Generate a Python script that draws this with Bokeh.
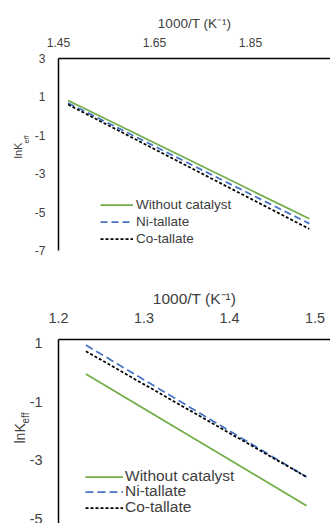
from bokeh.plotting import figure
from bokeh.models import Range1d, FixedTicker, Legend, LegendItem, Title, CustomJSTickFormatter
from bokeh.layouts import column
from bokeh.embed import file_html
from bokeh.resources import INLINE

series_names = ["Without catalyst", "Ni-tallate", "Co-tallate"]

# ---- top panel data ----
top_x = [1.470, 1.973]
top_without = [0.81, -5.35]
top_ni = [0.68, -5.60]
top_co = [0.60, -5.88]
top_xticks = [1.45, 1.65, 1.85, 2.05]
top_yticks = [3, 1, -1, -3, -5, -7]

# ---- bottom panel data ----
bot_x = [1.232, 1.490]
bot_without = [-0.05, -4.55]
bot_ni = [0.94, -3.57]
bot_co = [0.73, -3.57]
bot_xticks = [1.2, 1.3, 1.4, 1.5]
bot_yticks = [1, -1, -3, -5]

GREEN = "#70AD47"
BLUE = "#4472C4"
BLACK = "#000000"
TXT = "#404040"
FONT = "Liberation Sans"


def panel(x, ys, xticks, yticks, xdec, xr, yr, height, border_top, border_left, border_bottom,
          tick_fs, title_fs, legend_fs, tick_standoff_x, title_standoff, tick_standoff_y,
          dashes, lw, legend_locs, glyph_w, row_h, lab_standoff,
          ylab_fs, ysub_fs, ylab_off, ysub_off, ylab_so, ysub_so):
    p = figure(width=330, height=height, output_backend="svg", toolbar_location=None,
               x_axis_location="above", x_range=Range1d(*xr), y_range=Range1d(*yr),
               min_border_top=border_top, min_border_left=border_left,
               min_border_right=0, min_border_bottom=border_bottom)
    p.outline_line_color = None
    p.grid.visible = False
    p.background_fill_color = "white"
    p.border_fill_color = "white"
    for ax in (p.xaxis[0], p.yaxis[0]):
        ax.axis_line_color = BLACK
        ax.axis_line_width = 1.5
        ax.major_tick_out = 0
        ax.major_tick_in = 0
        ax.minor_tick_out = 0
        ax.minor_tick_in = 0
        ax.major_label_text_font = FONT
        ax.major_label_text_font_size = f"{tick_fs}px"
        ax.major_label_text_color = TXT
    p.xaxis.ticker = FixedTicker(ticks=xticks)
    p.yaxis.ticker = FixedTicker(ticks=yticks)
    p.xaxis.formatter = CustomJSTickFormatter(code=f"return tick.toFixed({xdec});")
    p.yaxis.formatter = CustomJSTickFormatter(code="return Math.round(tick).toString();")
    p.xaxis.major_label_standoff = tick_standoff_x
    p.yaxis.major_label_standoff = tick_standoff_y
    p.xaxis.axis_label = "1000/T (K\u207b\u00b9)"
    p.xaxis.axis_label_text_font = FONT
    p.xaxis.axis_label_text_font_style = "normal"
    p.xaxis.axis_label_text_font_size = f"{title_fs}px"
    p.xaxis.axis_label_text_color = TXT
    p.xaxis.axis_label_standoff = title_standoff

    colors = [GREEN, BLUE, BLACK]
    renderers = []
    for yv, c, d in zip(ys, colors, dashes):
        r = p.line(x, yv, line_color=c, line_width=lw, line_dash=d)
        renderers.append(r)

    # one legend entry per Legend so that each row sits exactly where the reference has it
    for n, r, loc in zip(series_names, renderers, legend_locs):
        leg = Legend(items=[LegendItem(label=n, renderers=[r])], location=loc,
                     border_line_color=None, background_fill_alpha=0,
                     padding=0, margin=0, spacing=0,
                     glyph_width=glyph_w, glyph_height=row_h, label_height=row_h,
                     label_standoff=lab_standoff, label_text_font=FONT,
                     label_text_font_size=f"{legend_fs}px", label_text_color=TXT)
        p.add_layout(leg, "center")

    # y-axis title "lnK" with subscript "eff", as two vertical titles beside the axis
    p.add_layout(Title(text="eff", align="left", offset=ysub_off, standoff=ysub_so,
                       text_font=FONT, text_font_size=f"{ysub_fs}px",
                       text_font_style="normal", text_color=TXT), "left")
    p.add_layout(Title(text="lnK", align="left", offset=ylab_off, standoff=ylab_so,
                       text_font=FONT, text_font_size=f"{ylab_fs}px",
                       text_font_style="normal", text_color=TXT), "left")
    return p


p1 = panel(top_x, [top_without, top_ni, top_co], top_xticks, top_yticks, 2,
           (1.45, 2.017), (-7, 3), 260, 58, 58, 10,
           12, 13.5, 13.5, 12, 4, 13,
           ["solid", "7 4", "3 2"], 1.75, [(42, 37), (42, 20), (42, 3)], 33, 17, 3,
           11, 7.5, 92, 107, -10, 2)

p2 = panel(bot_x, [bot_without, bot_ni, bot_co], bot_xticks, bot_yticks, 1,
           (1.2, 1.518), (-5.16, 1.13), 263, 79, 53, 0,
           14.4, 15.5, 15.5, 17, 3, 16,
           ["solid", "8 4", "3 2"], 1.75, [(27, 38), (27, 23), (27, 7)], 38, 15, 2,
           14, 10, 80, 100, -10, -9)

layout = column(p1, p2, spacing=0)
open("out.html", "w").write(file_html(layout, INLINE))
